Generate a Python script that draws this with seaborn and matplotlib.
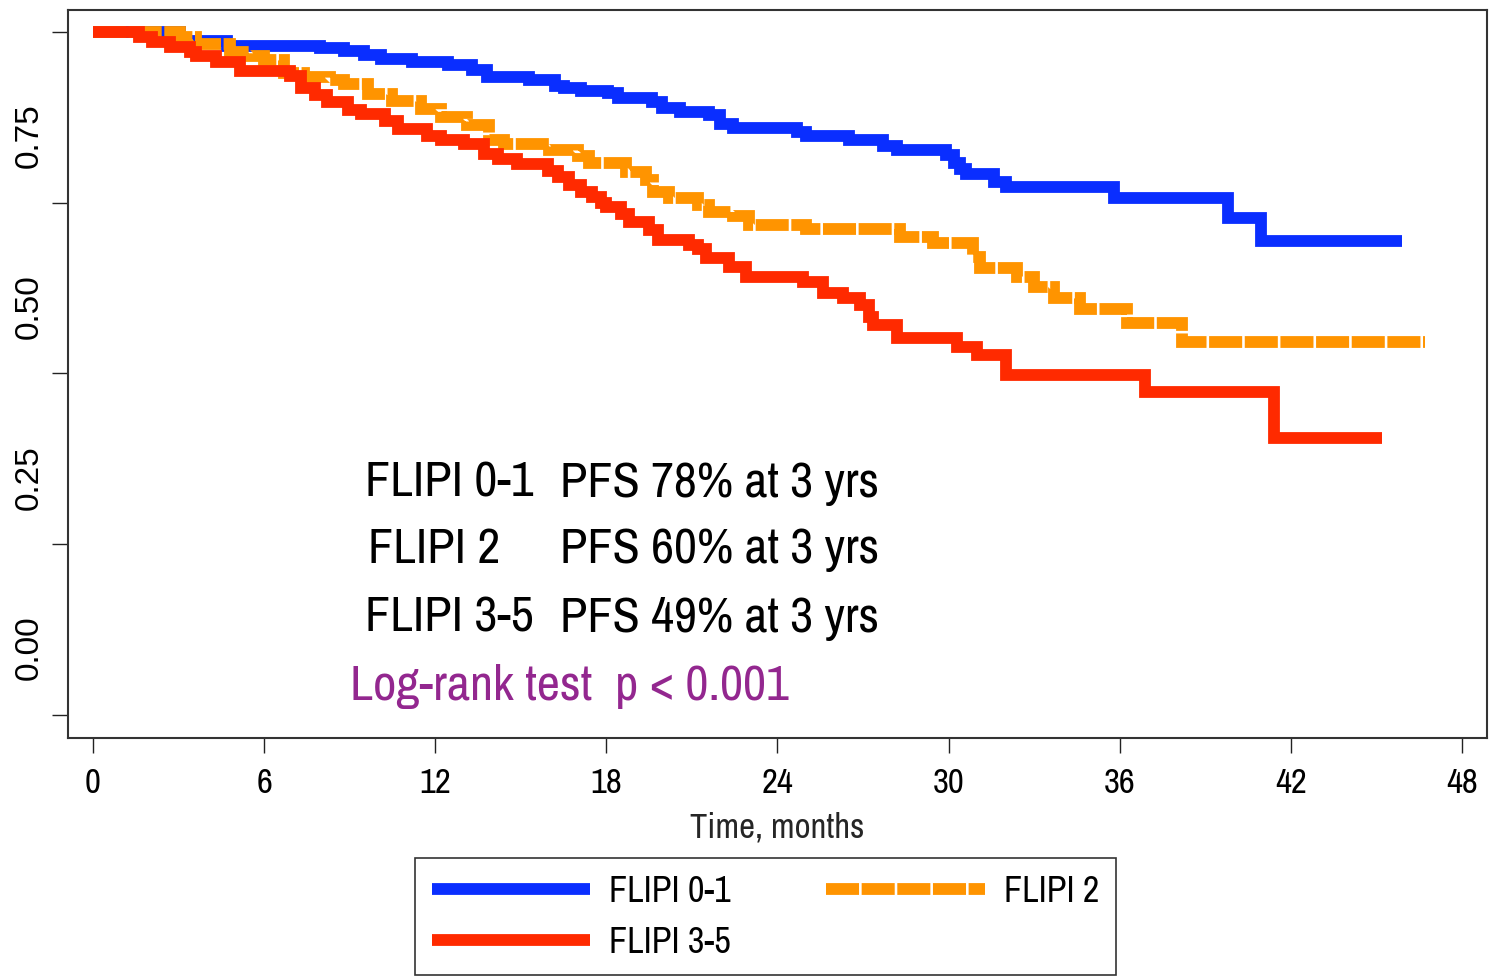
import numpy as np
import pandas as pd
import matplotlib
matplotlib.use('Agg')
import matplotlib.pyplot as plt
import matplotlib.transforms as mtransforms
from matplotlib import font_manager
from matplotlib.lines import Line2D
import seaborn as sns

# Courbes PFS par groupe FLIPI
groups = ['FLIPI 0-1', 'FLIPI 2', 'FLIPI 3-5']
colors = ['#0A2EFF', '#FF9400', '#FF2A00']

t_01 = [0, 3.05, 4.7, 7.96, 8.8, 9.5, 10.1, 11.2, 12.45, 13.3, 13.8, 15.3, 16.2, 16.5,
        17.1, 18.05, 18.4, 19.6, 19.95, 20.6, 21.6, 22.0, 22.45, 24.7, 25.0,
        26.5, 27.7, 28.2, 29.9, 30.2, 30.4, 30.6, 31.6, 32.0, 35.8, 39.8, 40.95, 45.9]
s_01 = [1.0, 0.987, 0.980, 0.976, 0.972, 0.967, 0.961, 0.956, 0.951, 0.944, 0.934, 0.929, 0.921, 0.918,
        0.914, 0.910, 0.904, 0.898, 0.888, 0.883, 0.878, 0.865, 0.859, 0.854, 0.848,
        0.842, 0.833, 0.827, 0.820, 0.808, 0.800, 0.792, 0.780, 0.773, 0.757, 0.728, 0.694, 0.694]

t_2 = [0, 3.05, 3.6, 4.8, 5.5, 6.0, 6.7, 7.4, 8.3, 8.8, 9.65, 10.5, 11.5, 12.2, 13.1, 13.9, 14.4,
       16.0, 17.0, 17.4, 18.7, 19.4, 19.65, 20.2, 21.2, 21.6, 22.45, 23.0, 25.0, 28.3,
       29.45, 30.85, 31.1, 32.4, 33.0, 33.7, 34.6, 36.25, 38.2, 46.7]
s_2 = [1.0, 0.992, 0.983, 0.970, 0.965, 0.959, 0.940, 0.934, 0.930, 0.924, 0.909, 0.899, 0.887, 0.875,
       0.864, 0.842, 0.836,
       0.827, 0.818, 0.808, 0.795, 0.783, 0.766, 0.757, 0.747, 0.737, 0.730, 0.717, 0.711, 0.700,
       0.691, 0.671, 0.655, 0.641, 0.626, 0.610, 0.594, 0.574, 0.546, 0.546]

t_35 = [0, 1.6, 2.07, 2.7, 3.4, 3.6, 4.3, 5.15, 6.9, 7.3, 7.8, 8.2, 8.95, 9.4, 10.25,
        10.7, 11.7, 12.2, 13.0, 13.7, 14.2, 14.85, 15.95, 16.3, 16.7, 17.1, 17.5, 17.8, 18.0, 18.5,
        18.8, 19.5, 19.8, 20.9, 21.2, 21.5, 22.3, 22.9, 24.9, 25.6, 26.3, 26.9, 27.2,
        27.35, 28.2, 30.3, 31.0, 32.0, 36.9, 41.4, 45.2]
s_35 = [1.0, 0.992, 0.986, 0.978, 0.971, 0.965, 0.956, 0.943, 0.935, 0.918, 0.908, 0.898, 0.886, 0.880, 0.869,
        0.858, 0.848, 0.842, 0.836, 0.821, 0.814, 0.807, 0.797, 0.788, 0.776, 0.766, 0.759, 0.749, 0.744, 0.734,
        0.722, 0.710, 0.695, 0.688, 0.683, 0.669, 0.656, 0.642, 0.634, 0.618, 0.610, 0.600, 0.583,
        0.571, 0.552, 0.539, 0.527, 0.498, 0.473, 0.405, 0.405]

x_ticks = [0, 6, 12, 18, 24, 30, 36, 42, 48]
y_ticks = [0, 0.25, 0.5, 0.75, 1.0]
y_ticklabels = ['0.00', '0.25', '0.50', '0.75', '']

ann_left = ['FLIPI 0-1', 'FLIPI 2', 'FLIPI 3-5']
ann_right = ['PFS 78% at 3 yrs', 'PFS 60% at 3 yrs', 'PFS 49% at 3 yrs']
logrank = 'Log-rank test  p < 0.001'

sns.set_style('ticks')
names = {f.name for f in font_manager.fontManager.ttflist}
narrow = 'Liberation Sans'
for cand in ['Liberation Sans Narrow', 'Arial Narrow', 'Archivo Narrow', 'Roboto Condensed', 'Asap Condensed']:
    if cand in names:
        narrow = cand
        break
nfam = [narrow, 'DejaVu Sans']
plt.rcParams['font.family'] = ['Liberation Sans', 'DejaVu Sans']
plt.rcParams['text.color'] = 'black'
plt.rcParams['xtick.color'] = 'black'
plt.rcParams['ytick.color'] = 'black'

frames = []
for g, t, s in zip(groups, [t_01, t_2, t_35], [s_01, s_2, s_35]):
    frames.append(pd.DataFrame({'time': t, 'surv': s, 'group': g}))
df = pd.concat(frames, ignore_index=True)

dash2 = (2.8, 0.22)
fig = plt.figure(figsize=(14.95, 9.77), dpi=100)
ax = fig.add_axes([68 / 1495, 1 - 738 / 977, 1419 / 1495, 728 / 977])
sns.lineplot(data=df, x='time', y='surv', hue='group', style='group',
             hue_order=groups, style_order=groups,
             palette=dict(zip(groups, colors)),
             dashes={'FLIPI 0-1': '', 'FLIPI 2': dash2, 'FLIPI 3-5': ''},
             estimator=None, sort=False, drawstyle='steps-post',
             linewidth=8.5, legend=False, ax=ax)
for line in ax.lines:
    line.set_solid_capstyle('butt')
    line.set_dash_capstyle('butt')
    line.set_solid_joinstyle('miter')
    line.set_dash_joinstyle('miter')

ax.set_xlim(-0.877, 48.88)
ax.set_ylim(-0.0337, 1.0322)
ax.set_xticks(x_ticks)
ax.set_yticks(y_ticks)
ax.set_yticklabels(y_ticklabels, rotation=90, va='center', fontsize=24)
ax.set_xticklabels([str(v) for v in x_ticks], family=nfam, fontsize=25)
ax.tick_params(axis='y', length=11.5, width=1, pad=5, color='#222222')
ax.tick_params(axis='x', length=11, width=1, pad=10, color='#222222')
offset = mtransforms.ScaledTranslation(0, 0.67, fig.dpi_scale_trans)
for lbl in ax.get_yticklabels():
    lbl.set_transform(lbl.get_transform() + offset)
for sp in ax.spines.values():
    sp.set_visible(True)
    sp.set_linewidth(1.5)
    sp.set_color('#333333')
ax.set_xlabel('Time, months', family=nfam, fontsize=25, labelpad=9)
ax.set_ylabel('')

# Annotations
ys = [0.3315, 0.2404, 0.146]
xl = [0.2093, 0.2114, 0.2093]
for txt, x, y in zip(ann_left, xl, ys):
    ax.text(x, y, txt, transform=ax.transAxes, family=nfam, fontsize=36, va='baseline')
for txt, y in zip(ann_right, ys):
    ax.text(0.3467, y, txt, transform=ax.transAxes, family=nfam, fontsize=36, va='baseline')
ax.text(0.1987, 0.052, logrank, transform=ax.transAxes, family=nfam, fontsize=36.5,
        va='baseline', color='#93278F')

# Légende
handles = [Line2D([], [], color=colors[0], lw=8.5, solid_capstyle='butt'),
           Line2D([], [], color=colors[2], lw=8.5, solid_capstyle='butt'),
           Line2D([], [], color=colors[1], lw=8.5, dashes=dash2, dash_capstyle='butt')]
labels = [groups[0], groups[2], groups[1]]
leg = fig.legend(handles, labels, loc='upper left', bbox_to_anchor=(415 / 1495, 1 - 858 / 977),
                 ncol=2, frameon=True, fancybox=False, edgecolor='black',
                 prop={'family': nfam, 'size': 26},
                 handlelength=4.39, handletextpad=0.53, columnspacing=2.64,
                 borderpad=0.46, labelspacing=0.5, borderaxespad=0)
leg.get_frame().set_linewidth(1.2)

plt.savefig('out.png', dpi=100)
